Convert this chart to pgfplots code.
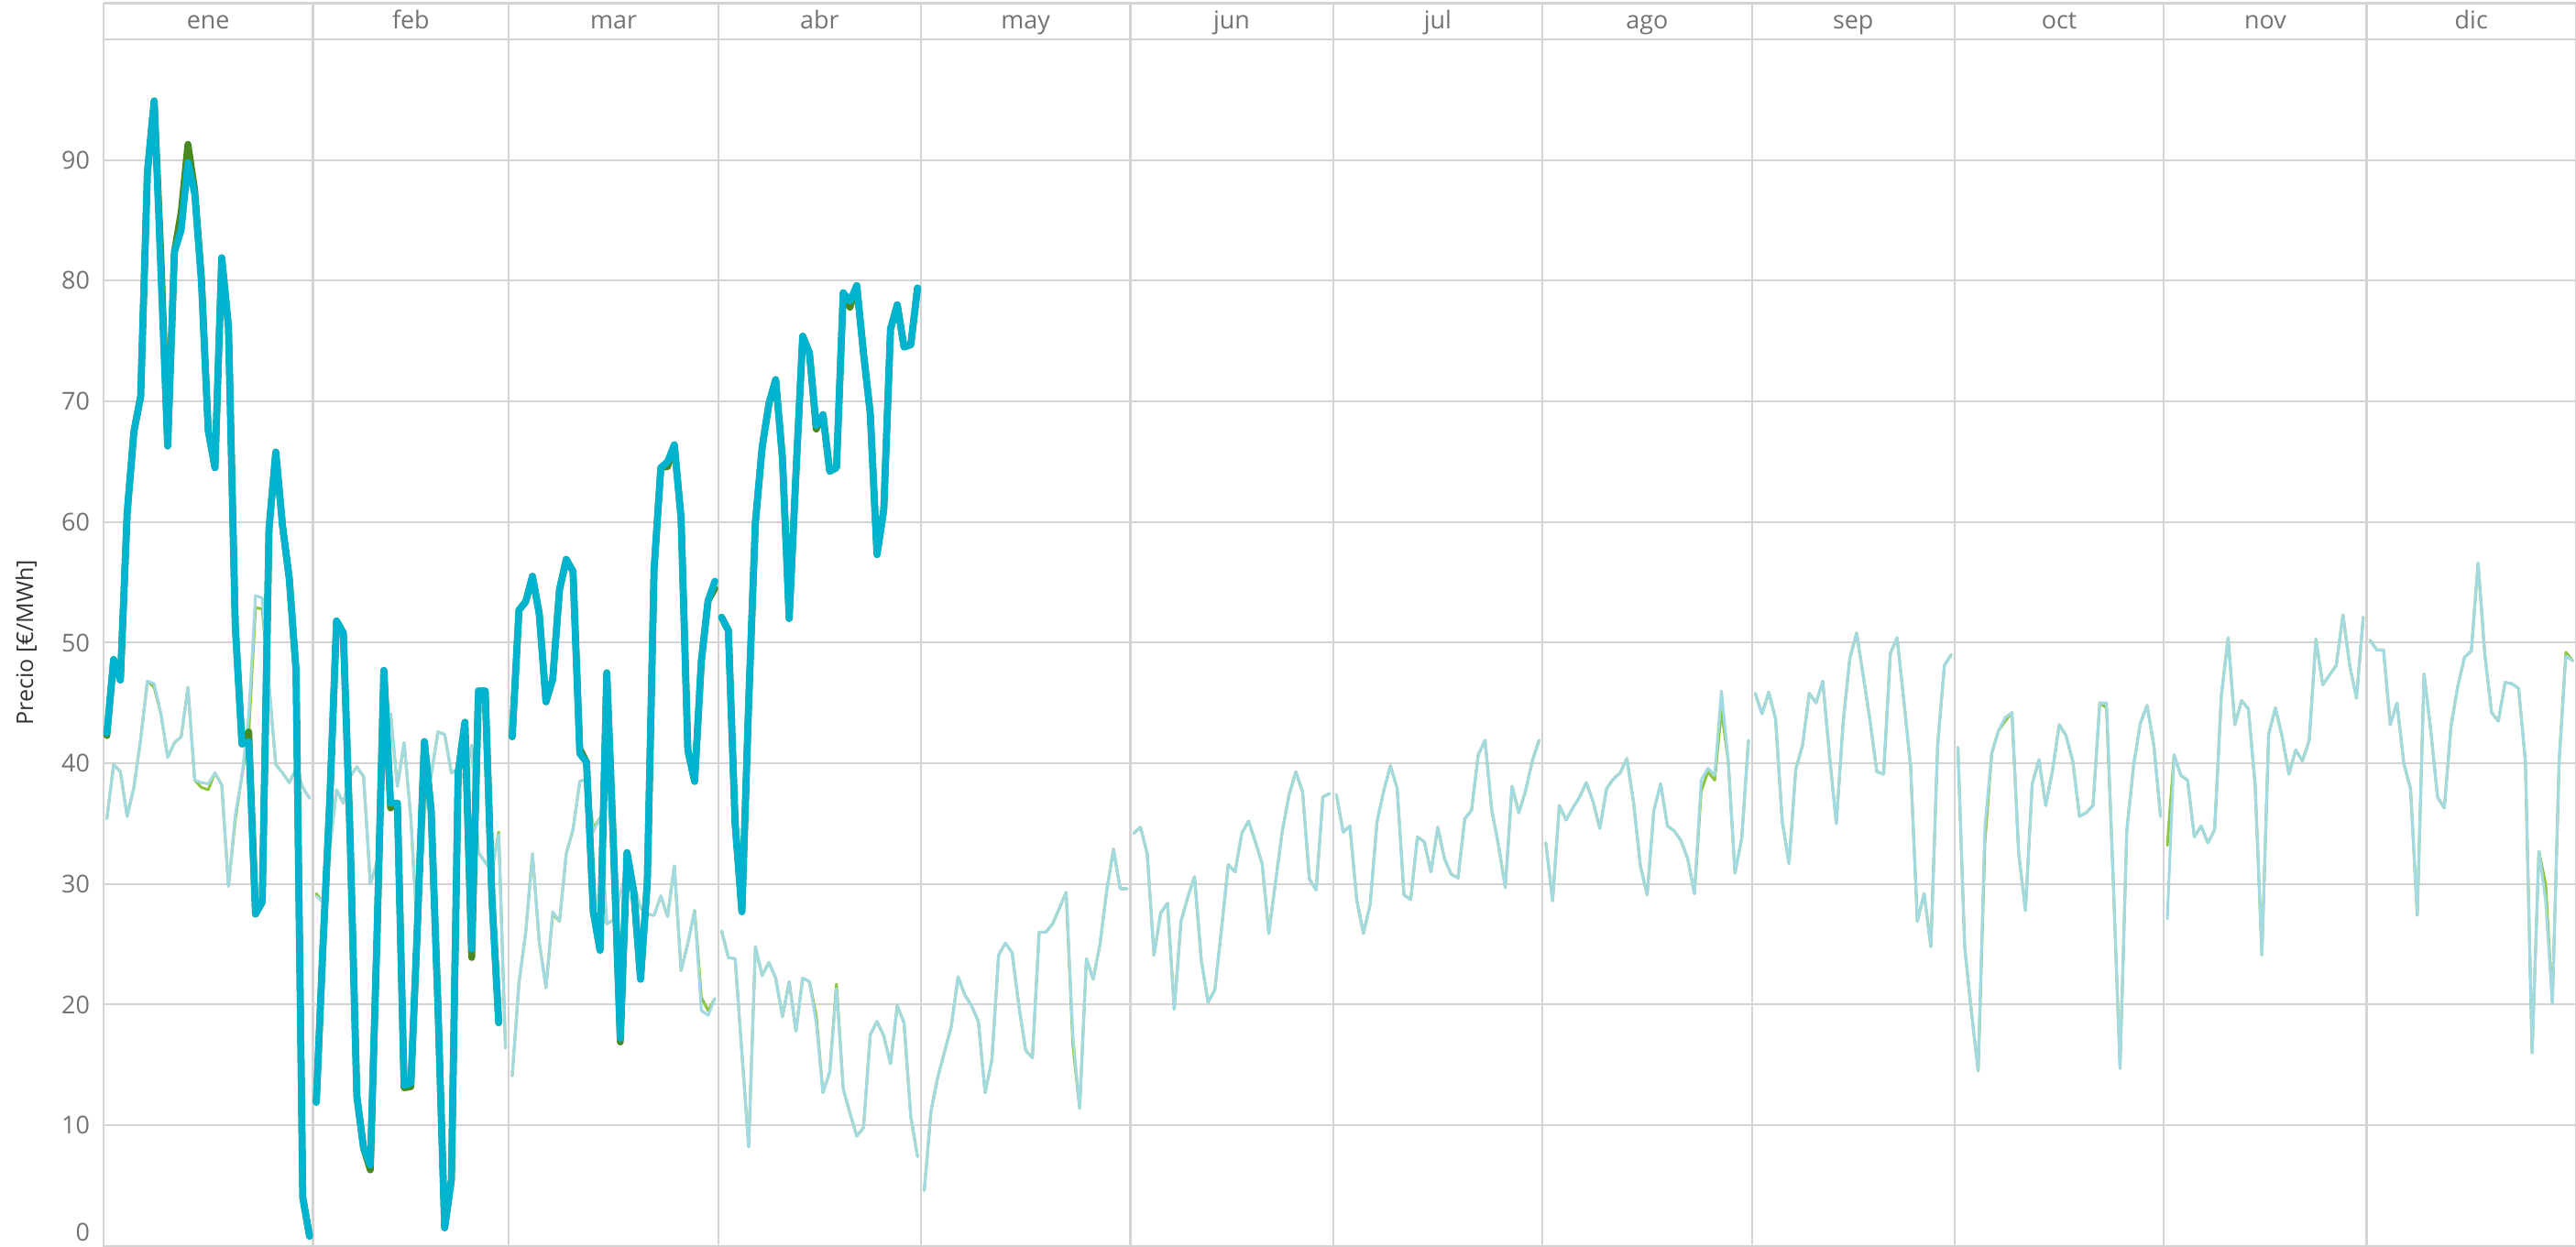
\documentclass[border=0pt]{standalone}
\usepackage{fontspec}
\setmainfont{Open Sans}
\usepackage{pgfplots}
\usepackage{pgfplotstable}
\pgfplotsset{compat=1.18}
\definecolor{gridc}{RGB}{212,212,212}
\definecolor{tickc}{RGB}{115,115,115}
\definecolor{labc}{RGB}{50,50,50}
\definecolor{cyanT}{RGB}{0,180,208}
\definecolor{greenT}{RGB}{74,137,34}
\definecolor{tealL}{RGB}{163,218,226}
\definecolor{greenL}{RGB}{141,198,63}
\tikzset{mlab/.style={font=\fontsize{7.5}{9}\selectfont, text=tickc, anchor=base, inner sep=0pt}}

\pgfplotstableread{
j p g
1 35.4 35.4
2 39.9 39.9
3 39.3 39.3
4 35.6 35.6
5 38.0 38.0
6 42.0 42.0
7 46.8 46.8
8 46.6 46.3
9 44.1 44.1
10 40.5 40.5
11 41.7 41.7
12 42.2 42.2
13 46.3 46.3
14 38.6 38.6
15 38.4 38.0
16 38.3 37.8
17 39.2 39.2
18 38.2 38.2
19 29.8 29.8
20 35.7 35.3
21 39.0 39.0
22 44.0 42.5
23 53.9 52.9
24 53.7 52.8
25 46.5 46.5
26 39.9 39.9
27 39.2 39.2
28 38.4 38.4
29 39.5 39.5
30 38.0 38.0
31 37.1 37.1
31.5 nan nan
32 29.0 29.2
33 28.5 28.5
34 33.0 33.0
35 37.8 37.8
36 36.7 36.7
37 38.9 38.9
38 39.7 39.7
39 38.9 38.9
40 30.0 30.0
41 31.8 31.8
42 43.6 43.6
43 44.1 44.1
44 38.1 38.1
45 41.7 41.7
46 35.4 35.4
47 25.5 25.5
48 36.0 36.0
49 39.0 39.0
50 42.6 42.6
51 42.4 42.4
52 39.2 39.2
53 39.5 39.5
54 38.7 38.7
55 41.5 41.5
56 32.6 32.6
57 31.8 31.8
58 31.1 31.1
59 34.1 34.3
60 16.4 16.4
60.5 nan nan
61 14.1 14.1
62 21.8 21.8
63 26.0 26.0
64 32.5 32.5
65 25.2 25.2
66 21.4 21.4
67 27.7 27.5
68 26.9 26.9
69 32.5 32.5
70 34.5 34.5
71 38.5 38.5
72 38.7 38.7
73 34.3 34.6
74 35.5 35.5
75 26.7 26.7
76 27.0 27.0
77 29.2 29.2
78 31.0 31.0
79 30.0 30.0
80 28.0 28.0
81 27.5 27.5
82 27.4 27.4
83 29.0 29.0
84 27.3 27.3
85 31.5 31.5
86 22.8 22.8
87 25.1 25.1
88 27.8 27.8
89 19.5 20.6
90 19.1 19.5
91 20.5 20.5
91.5 nan nan
92 26.1 26.1
93 23.9 23.9
94 23.8 23.8
95 16.0 16.0
96 8.2 8.2
97 24.8 24.8
98 22.4 22.4
99 23.5 23.5
100 22.2 22.2
101 19.0 19.0
102 21.9 21.9
103 17.8 17.8
104 22.2 22.2
105 21.9 21.9
106 18.5 19.1
107 12.7 12.7
108 14.4 14.4
109 21.3 21.7
110 13.0 13.0
111 11.0 11.0
112 9.1 9.1
113 9.8 9.8
114 17.5 17.5
115 18.6 18.6
116 17.4 17.4
117 15.1 15.1
118 19.9 19.9
119 18.5 18.5
120 10.7 10.7
121 7.4 7.4
121.5 nan nan
122 4.6 4.6
123 11.2 11.2
124 14.0 14.0
125 16.1 16.1
126 18.2 18.2
127 22.3 22.3
128 20.8 20.8
129 19.9 19.9
130 18.6 18.6
131 12.7 12.7
132 15.4 15.4
133 24.1 24.1
134 25.1 25.1
135 24.3 24.3
136 19.9 19.9
137 16.2 16.2
138 15.6 15.6
139 26.0 26.0
140 26.0 26.0
141 26.7 26.7
142 28.0 28.0
143 29.3 29.3
144 17.4 16.6
145 11.4 11.4
146 23.8 23.8
147 22.1 22.1
148 25.0 25.0
149 29.4 29.4
150 32.9 32.9
151 29.6 29.6
152 29.6 29.6
152.5 nan nan
153 34.2 34.2
154 34.7 34.7
155 32.5 32.5
156 24.1 24.1
157 27.6 27.6
158 28.4 28.4
159 19.6 19.6
160 26.9 26.9
161 28.9 28.9
162 30.6 30.6
163 23.7 23.7
164 20.2 20.2
165 21.2 21.2
166 26.3 26.3
167 31.6 31.6
168 31.0 31.0
169 34.2 34.2
170 35.2 35.2
171 33.5 33.5
172 31.7 31.7
173 25.9 25.9
174 30.2 30.2
175 34.4 34.4
176 37.4 37.4
177 39.3 39.3
178 37.6 37.6
179 30.4 30.4
180 29.5 29.5
181 37.2 37.2
182 37.5 37.5
182.5 nan nan
183 37.4 37.4
184 34.3 34.3
185 34.8 34.8
186 28.7 28.7
187 25.9 25.9
188 28.3 28.3
189 35.1 35.1
190 37.7 37.7
191 39.8 39.8
192 37.9 37.9
193 29.1 29.1
194 28.7 28.7
195 33.9 33.9
196 33.5 33.5
197 31.0 31.0
198 34.7 34.7
199 32.1 32.1
200 30.8 30.8
201 30.5 30.5
202 35.4 35.4
203 36.1 36.1
204 40.7 40.7
205 41.9 41.9
206 36.1 36.1
207 33.2 33.2
208 29.7 29.7
209 38.1 38.1
210 35.9 35.9
211 37.7 37.7
212 40.2 40.2
213 41.9 41.9
213.5 nan nan
214 33.4 33.4
215 28.6 28.6
216 36.5 36.5
217 35.3 35.3
218 36.3 36.3
219 37.2 37.2
220 38.4 38.4
221 36.8 36.8
222 34.6 34.6
223 37.9 37.9
224 38.7 38.7
225 39.2 39.2
226 40.4 40.4
227 36.7 36.7
228 31.5 31.5
229 29.1 29.1
230 36.1 36.1
231 38.3 38.3
232 34.8 34.8
233 34.4 34.4
234 33.6 33.6
235 32.1 32.1
236 29.2 29.2
237 38.6 37.7
238 39.6 39.3
239 39.0 38.6
240 46.0 44.4
241 40.2 40.2
242 30.9 30.9
243 33.8 33.8
244 41.9 41.9
244.5 nan nan
245 45.8 45.8
246 44.1 44.1
247 45.9 45.9
248 43.7 43.7
249 35.2 35.2
250 31.7 31.7
251 39.5 39.5
252 41.5 41.5
253 45.8 45.8
254 45.0 45.0
255 46.8 46.8
256 40.6 40.6
257 35.0 35.0
258 43.3 43.3
259 48.7 48.7
260 50.8 50.8
261 47.2 47.2
262 43.5 43.5
263 39.3 39.3
264 39.1 39.1
265 49.1 49.1
266 50.4 50.4
267 45.2 45.2
268 39.7 39.7
269 26.9 26.9
270 29.2 29.2
271 24.8 24.8
272 41.5 41.5
273 48.1 48.1
274 49.0 49.0
274.5 nan nan
275 41.3 41.3
276 24.8 24.8
277 19.4 19.4
278 14.5 14.5
279 34.8 33.5
280 40.8 40.8
281 42.7 42.7
282 43.8 43.5
283 44.2 44.2
284 32.5 32.5
285 27.8 27.8
286 38.3 38.3
287 40.3 40.3
288 36.5 36.5
289 39.4 39.4
290 43.2 43.2
291 42.3 42.3
292 40.2 40.2
293 35.6 35.6
294 35.9 35.9
295 36.5 36.5
296 45.0 45.0
297 45.0 44.6
298 30.2 30.2
299 14.7 14.7
300 34.4 34.4
301 39.8 39.8
302 43.3 43.3
303 44.8 44.8
304 41.5 41.5
305 35.6 35.6
305.5 nan nan
306 27.1 33.2
307 40.7 40.7
308 39.0 39.0
309 38.6 38.6
310 33.9 33.9
311 34.8 34.8
312 33.4 33.4
313 34.5 34.5
314 45.6 45.6
315 50.4 50.4
316 43.2 43.2
317 45.2 45.2
318 44.5 44.5
319 38.2 38.2
320 24.1 24.1
321 42.4 42.4
322 44.6 44.6
323 42.2 42.2
324 39.1 39.1
325 41.1 41.1
326 40.2 40.2
327 41.9 41.9
328 50.3 50.3
329 46.5 46.5
330 47.3 47.3
331 48.1 48.1
332 52.3 52.3
333 48.1 48.1
334 45.4 45.4
335 52.1 52.1
335.5 nan nan
336 50.2 50.2
337 49.4 49.4
338 49.4 49.4
339 43.2 43.2
340 45.0 45.0
341 40.0 40.0
342 37.9 37.9
343 27.4 27.4
344 47.4 47.4
345 42.7 42.7
346 37.2 37.2
347 36.3 36.3
348 43.1 43.1
349 46.4 46.4
350 48.8 48.8
351 49.3 49.3
352 56.6 56.6
353 49.0 49.0
354 44.2 44.2
355 43.5 43.5
356 46.7 46.7
357 46.6 46.6
358 46.2 46.2
359 40.2 40.2
360 16.0 16.0
361 32.7 32.7
362 28.6 30.0
363 20.1 20.1
364 40.2 40.2
365 48.9 49.2
366 48.5 48.5
}\prev

\pgfplotstableread{
j c g
1 42.5 42.3
2 48.6 48.6
3 46.9 46.9
4 60.7 60.7
5 67.5 67.5
6 70.4 70.4
7 89.0 89.0
8 94.9 94.9
9 80.6 82.0
10 66.3 66.3
11 82.4 82.4
12 84.2 85.7
13 89.8 91.3
14 87.2 87.5
15 79.8 80.2
16 67.6 67.6
17 64.5 64.5
18 81.9 81.9
19 76.2 76.2
20 51.5 51.5
21 41.6 41.6
22 41.8 42.6
23 27.5 27.5
24 28.5 28.5
25 59.4 59.4
26 65.8 65.8
27 59.7 59.7
28 55.3 55.3
29 47.7 47.7
30 4.0 4.0
31 0.8 0.8
31.5 nan nan
32 11.9 11.9
33 25.0 25.0
34 37.0 37.0
35 51.8 51.8
36 50.8 50.8
37 34.0 34.0
38 12.4 12.4
39 8.1 8.1
40 6.7 6.3
41 26.0 26.0
42 47.7 47.7
43 36.7 36.3
44 36.7 36.7
45 13.3 13.1
46 13.5 13.2
47 27.0 27.0
48 41.8 41.8
49 36.1 36.1
50 20.0 20.0
51 1.5 1.5
52 5.5 5.5
53 39.2 39.2
54 43.4 43.4
55 24.6 23.9
56 46.0 46.0
57 46.0 46.0
58 28.8 28.8
59 18.5 18.5
59.5 nan nan
61 42.2 42.2
62 52.7 52.7
63 53.4 53.4
64 55.5 55.5
65 52.4 52.4
66 45.1 45.1
67 47.0 47.0
68 54.4 54.4
69 56.9 56.9
70 55.9 55.9
71 40.8 41.2
72 40.1 40.1
73 27.7 27.7
74 24.5 24.5
75 47.5 47.5
76 33.0 33.0
77 17.2 16.9
78 32.6 32.6
79 29.3 29.3
80 22.1 22.1
81 30.2 30.2
82 56.1 56.1
83 64.5 64.5
84 65.0 64.6
85 66.4 66.4
86 60.3 60.3
87 41.1 41.1
88 38.5 38.5
89 48.5 48.5
90 53.5 53.5
91 55.1 54.5
91.5 nan nan
92 52.1 52.1
93 51.0 51.0
94 35.0 35.0
95 27.7 27.7
96 45.0 45.0
97 60.0 60.0
98 66.2 66.2
99 69.8 69.8
100 71.8 71.8
101 65.3 65.3
102 52.0 52.0
103 64.0 64.0
104 75.4 75.4
105 74.0 74.0
106 68.0 67.7
107 68.9 68.9
108 64.2 64.2
109 64.5 64.5
110 79.0 79.0
111 78.3 77.8
112 79.6 79.6
113 74.0 74.0
114 69.0 69.0
115 57.3 57.3
116 61.0 61.0
117 76.0 76.0
118 78.0 78.0
119 74.5 74.5
120 74.7 74.7
121 79.4 79.4
}\cur

\begin{document}
\begin{tikzpicture}
\begin{axis}[
  at={(0,0)}, anchor=south west,
  scale only axis, width=752.5pt, height=367.25pt,
  xmin=0.5, xmax=366.5, ymin=0, ymax=100,
  clip=false,
  axis line style={draw=gridc, line width=0.6pt},
  xtick={0.5,31.5,60.5,91.5,121.5,152.5,182.5,213.5,244.5,274.5,305.5,335.5,366.5},
  xticklabels={},
  ytick={10,20,30,40,50,60,70,80,90},
  extra y ticks={0},
  extra y tick style={yticklabel style={yshift=4.25pt}, grid=none},
  grid=major, grid style={draw=gridc, line width=0.6pt},
  major tick length=0pt,
  /pgf/number format/assume math mode=true,
  yticklabel style={font=\fontsize{7.5}{9}\selectfont, text=tickc, anchor=east, inner sep=0pt, xshift=-4pt},
  ylabel={Precio [€/MWh]},
  every axis y label/.style={at={(axis description cs:-0.03123,0.5)}, rotate=90, anchor=center, font=\fontsize{7}{8}\selectfont, text=labc},
  unbounded coords=jump,
  every axis plot/.append style={no markers, line join=round, line cap=round},
]
\addplot[greenL, line width=0.85pt] table[x=j, y=g] {\prev};
\addplot[tealL, line width=0.85pt] table[x=j, y=p] {\prev};
\addplot[greenT, line width=2.1pt] table[x=j, y=g] {\cur};
\addplot[cyanT, line width=2.1pt] table[x=j, y=c] {\cur};

\pgfplotsinvokeforeach{0.5,31.5,60.5,91.5,121.5,152.5,182.5,213.5,244.5,274.5,305.5,335.5,366.5}{
  \draw[gridc, line width=0.6pt] (axis cs:#1,100) -- (axis cs:#1,103);
}
\draw[gridc, line width=0.6pt] (axis cs:0.5,103) -- (axis cs:366.5,103);
\node[mlab] at (axis cs:16,100.85) {ene};
\node[mlab] at (axis cs:46,100.85) {feb};
\node[mlab] at (axis cs:76,100.85) {mar};
\node[mlab] at (axis cs:106.5,100.85) {abr};
\node[mlab] at (axis cs:137,100.85) {may};
\node[mlab] at (axis cs:167.5,100.85) {jun};
\node[mlab] at (axis cs:198,100.85) {jul};
\node[mlab] at (axis cs:229,100.85) {ago};
\node[mlab] at (axis cs:259.5,100.85) {sep};
\node[mlab] at (axis cs:290,100.85) {oct};
\node[mlab] at (axis cs:320.5,100.85) {nov};
\node[mlab] at (axis cs:351,100.85) {dic};
\end{axis}
\pgfresetboundingbox
\useasboundingbox (-31.5pt,-0.25pt) rectangle (752.5pt,379.25pt);
\end{tikzpicture}
\end{document}
